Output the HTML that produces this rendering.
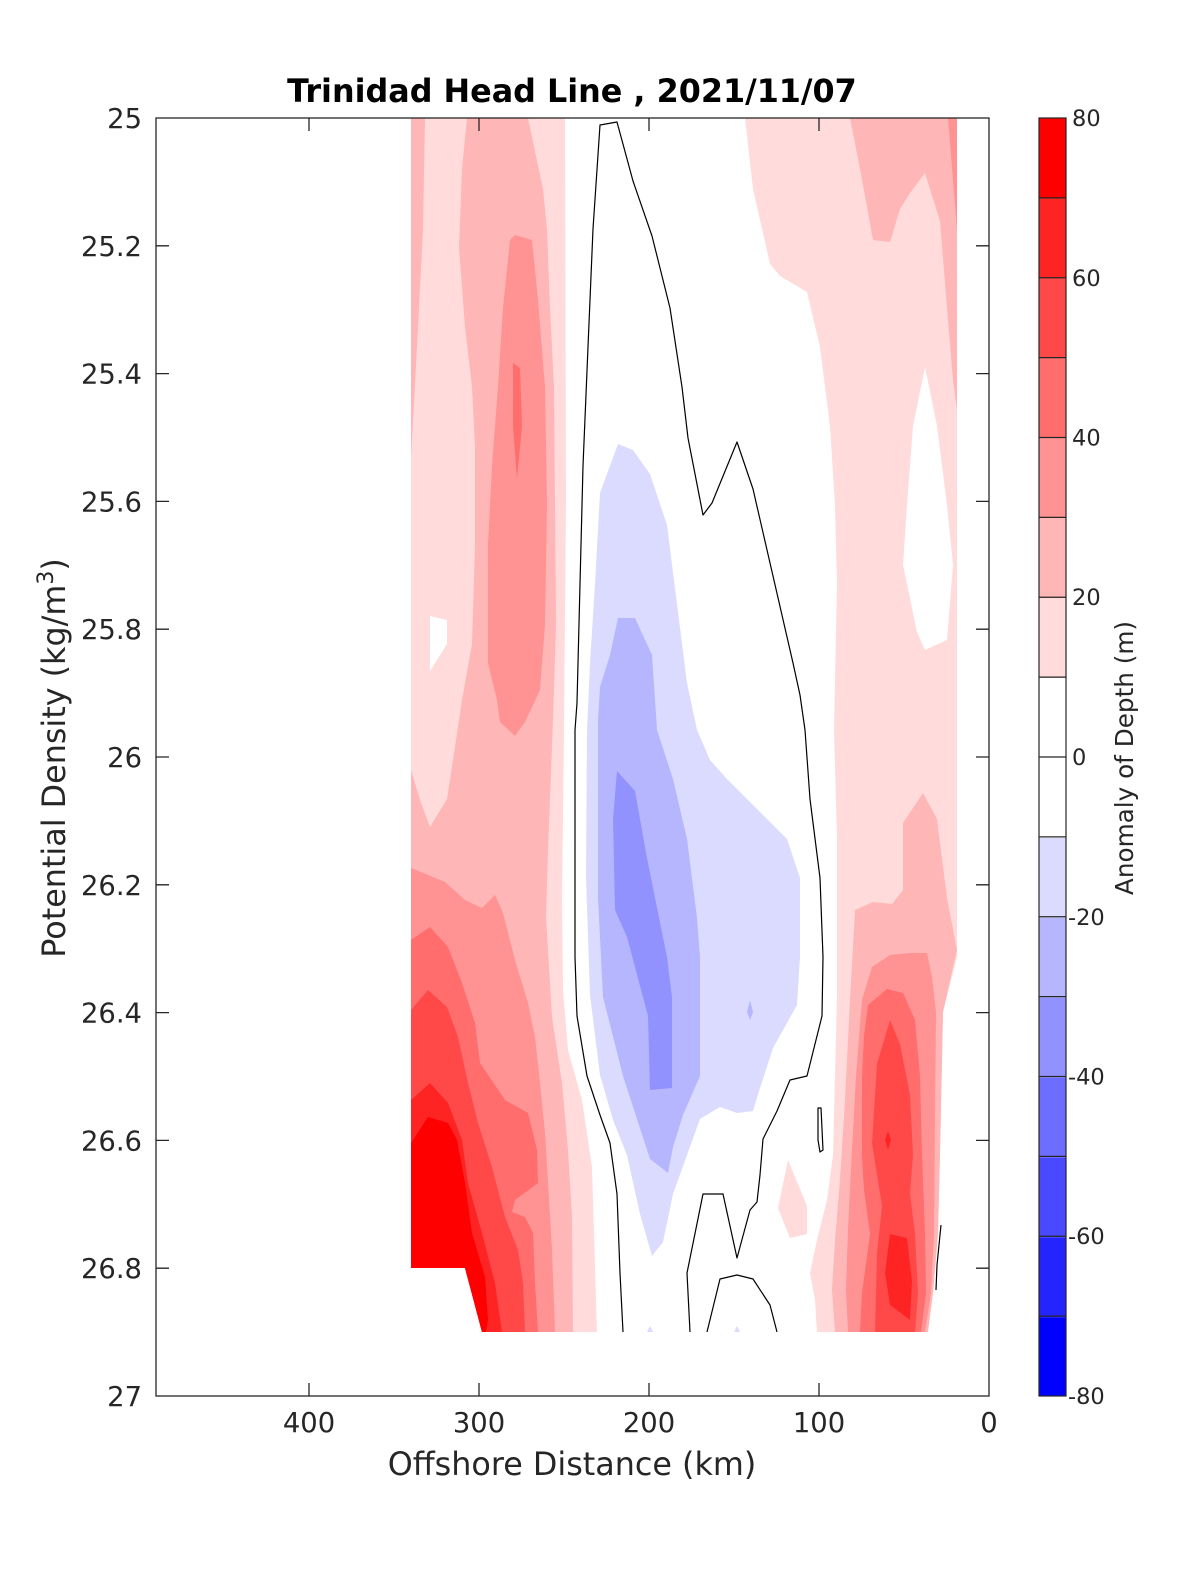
<!DOCTYPE html>
<html><head><meta charset="utf-8"><style>html,body{margin:0;padding:0;background:#fff;}svg{display:block;}</style></head>
<body>
<svg width="1200" height="1575" viewBox="0 0 1200 1575" xmlns="http://www.w3.org/2000/svg" font-family="'DejaVu Sans','Liberation Sans',sans-serif">
<rect x="0" y="0" width="1200" height="1575" fill="#fff"/>
<rect x="156" y="118" width="833" height="1278" fill="#fff"/>
<!-- Left block -->
<path fill="#FFDBDB" d="M411,118 L565,118 L566,500 L564,730 L562,900 L563,990 L568,1050 L582,1100 L592,1167 L597,1332 L482,1332 L465,1268 L411,1268 Z"/>
<path fill="#fff" d="M430,616 L447,620 L447,644 L430,671 Z"/>
<path fill="#FFB6B6" d="M411,118 L425,118 L423,229 L417,347 L411,458 Z"/>
<path fill="#FFB6B6" d="M467,118 L528,118 L543,189 L547,229 L550,308 L554,387 L555,505 L556,624 L553,720 L548,850 L546,917 L552,1017 L562,1083 L568,1150 L572,1217 L573,1332 L482,1332 L465,1268 L411,1268 L411,770 L420,800 L430,827 L447,799 L453,760 L462,700 L472,644 L475,545 L475,446 L472,387 L465,327 L459,248 L462,169 Z"/>
<path fill="#FF9292" d="M510,240 L515,235 L532,240 L538,300 L545,387 L547,505 L545,624 L540,690 L525,722 L515,736 L500,722 L497,700 L488,663 L488,545 L492,466 L498,387 L503,308 Z"/>
<path fill="#FF6D6D" d="M513,363 L520,368 L522,426 L517,478 L513,426 Z"/>
<path fill="#FF9292" d="M411,868 L445,882 L465,900 L482,908 L495,895 L503,913 L515,960 L528,1003 L535,1037 L540,1083 L545,1133 L548,1183 L552,1250 L555,1332 L482,1332 L465,1268 L411,1268 Z"/>
<path fill="#FF6D6D" d="M411,940 L430,927 L448,947 L462,983 L475,1023 L480,1063 L505,1100 L528,1113 L537,1150 L538,1183 L515,1200 L512,1212 L525,1217 L533,1233 L535,1283 L538,1332 L482,1332 L465,1268 L411,1268 Z"/>
<path fill="#FF4949" d="M411,1010 L428,990 L447,1007 L458,1037 L468,1083 L478,1123 L492,1167 L505,1217 L518,1250 L523,1283 L525,1332 L482,1332 L465,1268 L411,1268 Z"/>
<path fill="#FF2424" d="M411,1100 L430,1083 L448,1103 L462,1140 L468,1183 L482,1233 L495,1283 L502,1332 L482,1332 L465,1268 L411,1268 Z"/>
<path fill="#FF0000" d="M411,1143 L428,1117 L448,1123 L457,1140 L465,1183 L472,1233 L485,1277 L488,1320 L486,1332 L482,1332 L465,1268 L411,1268 Z"/>
<!-- Right block -->
<path fill="#FFDBDB" d="M745,118 L753,189 L770,264 L780,276 L807,292 L820,347 L830,426 L835,505 L837,584 L834,730 L837,839 L837,997 L835,1076 L833,1155 L827,1200 L817,1240 L810,1273 L815,1300 L817,1332 L927,1332 L933,1293 L938,1234 L940,1155 L943,1012 L957,957 L957,118 Z"/>
<path fill="#fff" d="M925,367 L937,426 L947,505 L953,565 L947,640 L925,650 L917,632 L903,565 L907,505 L913,426 Z"/>
<path fill="#FFB6B6" d="M850,118 L860,169 L873,240 L890,242 L900,209 L910,193 L925,173 L940,221 L947,308 L953,380 L957,410 L957,118 Z"/>
<path fill="#FF9292" d="M948,118 L957,118 L957,230 L953,180 Z"/>
<path fill="#FFB6B6" d="M855,910 L873,902 L892,904 L903,890 L903,823 L923,793 L937,819 L947,898 L957,950 L943,1012 L940,1155 L938,1234 L933,1293 L928,1332 L835,1332 L832,1290 L835,1240 L840,1180 L845,1100 L850,1000 Z"/>
<path fill="#FF9292" d="M872,967 L890,955 L910,953 L927,953 L932,977 L936,1012 L935,1115 L934,1234 L931,1293 L925,1332 L848,1332 L846,1290 L848,1230 L852,1150 L856,1076 L862,1000 Z"/>
<path fill="#FF6D6D" d="M868,1005 L887,989 L903,993 L915,1020 L920,1076 L922,1155 L925,1234 L926,1293 L921,1332 L860,1332 L862,1293 L870,1234 L864,1190 L862,1155 L862,1076 L864,1036 Z"/>
<path fill="#FF4949" d="M890,1020 L900,1044 L910,1095 L913,1155 L910,1194 L915,1234 L918,1293 L915,1332 L875,1332 L877,1254 L882,1206 L872,1143 L877,1064 Z"/>
<path fill="#FF2424" d="M890,1234 L907,1238 L912,1281 L910,1320 L890,1305 L885,1273 Z"/>
<path fill="#FF2424" d="M888,1131 L891,1140 L888,1150 L885,1140 Z"/>
<path fill="#FFDBDB" d="M788,1160 L807,1206 L807,1234 L790,1238 L778,1208 Z"/>
<!-- Blue -->
<path fill="#DBDBFF" d="M618,444 L633,450 L650,474 L667,525 L677,604 L687,683 L697,730 L710,760 L727,779 L747,799 L767,819 L787,839 L800,878 L800,957 L797,1005 L773,1048 L760,1088 L753,1111 L737,1113 L720,1107 L700,1119 L687,1155 L673,1194 L663,1242 L652,1256 L640,1214 L627,1155 L613,1120 L600,1075 L590,995 L586,878 L587,730 L590,663 L595,584 L600,493 Z"/>
<path fill="#B6B6FF" d="M618,618 L635,618 L652,655 L657,730 L673,779 L687,839 L697,918 L700,957 L700,1076 L683,1115 L673,1147 L668,1173 L650,1159 L623,1076 L603,997 L598,898 L598,720 L600,687 L610,655 Z"/>
<path fill="#B6B6FF" d="M750,1000 L753,1012 L750,1020 L747,1012 Z"/>
<path fill="#9292FF" d="M617,771 L635,791 L647,858 L667,957 L672,997 L672,1088 L650,1090 L648,1016 L627,937 L615,910 L613,819 Z"/>
<path fill="#DBDBFF" d="M647,1332 L650,1326 L653,1332 Z"/>
<path fill="#DBDBFF" d="M734,1332 L737,1326 L740,1332 Z"/>
<!-- zero contours -->
<g fill="none" stroke="#000" stroke-width="1.2" stroke-linejoin="round">
<path d="M623,1332 L620,1273 L617,1194 L610,1143 L600,1115 L587,1076 L577,1016 L575,957 L575,730 L577,703 L580,584 L583,466 L588,347 L593,229 L600,125 L617,122 L633,181 L652,236 L670,308 L682,387 L688,438 L703,515 L712,503 L737,442 L753,489 L773,576 L793,663 L800,695 L805,730 L810,799 L820,878 L823,957 L822,1016 L807,1076 L790,1080 L777,1111 L763,1139 L760,1175 L757,1202 L750,1210 L737,1258 L723,1194 L703,1194 L687,1273 L690,1332"/>
<path d="M707,1332 L720,1279 L737,1275 L753,1279 L770,1305 L777,1332"/>
<path d="M818,1108 L821,1108 L823,1150 L820,1152 L818,1140 Z"/>
<path d="M941,1225 L937,1265 L936,1290"/>
</g>
<!-- axes box and ticks -->
<g stroke="#262626" stroke-width="1.3" fill="none">
<rect x="156" y="118" width="833" height="1278"/>
<path d="M309,1396 V1383 M479,1396 V1383 M649,1396 V1383 M819,1396 V1383 M309,118 V131 M479,118 V131 M649,118 V131 M819,118 V131"/>
<path d="M156,245.8 H169 M156,373.6 H169 M156,501.4 H169 M156,629.2 H169 M156,757 H169 M156,884.8 H169 M156,1012.6 H169 M156,1140.4 H169 M156,1268.2 H169
M989,245.8 H976 M989,373.6 H976 M989,501.4 H976 M989,629.2 H976 M989,757 H976 M989,884.8 H976 M989,1012.6 H976 M989,1140.4 H976 M989,1268.2 H976"/>
</g>
<!-- y tick labels -->
<g fill="#262626" font-size="27.4" text-anchor="end">
<text x="142" y="128">25</text>
<text x="142" y="255.8">25.2</text>
<text x="142" y="383.6">25.4</text>
<text x="142" y="511.4">25.6</text>
<text x="142" y="639.2">25.8</text>
<text x="142" y="767">26</text>
<text x="142" y="894.8">26.2</text>
<text x="142" y="1022.6">26.4</text>
<text x="142" y="1150.4">26.6</text>
<text x="142" y="1278.2">26.8</text>
<text x="142" y="1406">27</text>
</g>
<!-- x tick labels -->
<g fill="#262626" font-size="27.4" text-anchor="middle">
<text x="309" y="1432">400</text>
<text x="479" y="1432">300</text>
<text x="649" y="1432">200</text>
<text x="819" y="1432">100</text>
<text x="989" y="1432">0</text>
</g>
<text x="572" y="1475" fill="#262626" font-size="31.8" text-anchor="middle">Offshore Distance (km)</text>
<text transform="translate(65,758) rotate(-90)" fill="#262626" font-size="31.8" text-anchor="middle">Potential Density (kg/m<tspan dy="-12" font-size="22">3</tspan><tspan dy="12">)</tspan></text>
<text x="572" y="102" fill="#000" font-size="31.8" font-weight="bold" text-anchor="middle">Trinidad Head Line , 2021/11/07</text>
<!-- colorbar -->
<g>
<rect x="1039" y="118" width="27" height="80" fill="#FF0000"/>
<rect x="1039" y="198" width="27" height="80" fill="#FF2424"/>
<rect x="1039" y="278" width="27" height="80" fill="#FF4949"/>
<rect x="1039" y="358" width="27" height="80" fill="#FF6D6D"/>
<rect x="1039" y="438" width="27" height="80" fill="#FF9292"/>
<rect x="1039" y="518" width="27" height="80" fill="#FFB6B6"/>
<rect x="1039" y="598" width="27" height="80" fill="#FFDBDB"/>
<rect x="1039" y="678" width="27" height="160" fill="#FFFFFF"/>
<rect x="1039" y="838" width="27" height="80" fill="#DBDBFF"/>
<rect x="1039" y="918" width="27" height="80" fill="#B6B6FF"/>
<rect x="1039" y="998" width="27" height="80" fill="#9292FF"/>
<rect x="1039" y="1078" width="27" height="80" fill="#6D6DFF"/>
<rect x="1039" y="1158" width="27" height="80" fill="#4949FF"/>
<rect x="1039" y="1238" width="27" height="80" fill="#2424FF"/>
<rect x="1039" y="1318" width="27" height="78" fill="#0000FF"/>
</g>
<g stroke="#262626" stroke-width="1.2" fill="none">
<path d="M1039,197.9 H1066 M1039,277.75 H1066 M1039,357.6 H1066 M1039,437.5 H1066 M1039,517.4 H1066 M1039,597.25 H1066 M1039,677.1 H1066 M1039,757 H1066 M1039,836.9 H1066 M1039,916.75 H1066 M1039,996.6 H1066 M1039,1076.5 H1066 M1039,1156.4 H1066 M1039,1236.25 H1066 M1039,1316.1 H1066"/>
<rect x="1039" y="118" width="27" height="1278"/>
</g>
<g fill="#262626" font-size="22.5">
<text x="1072" y="126">80</text>
<text x="1072" y="286">60</text>
<text x="1072" y="445.5">40</text>
<text x="1072" y="605">20</text>
<text x="1072" y="765">0</text>
<text x="1068" y="925">-20</text>
<text x="1068" y="1084.5">-40</text>
<text x="1068" y="1244">-60</text>
<text x="1068" y="1404">-80</text>
</g>
<text transform="translate(1133,758) rotate(-90)" fill="#262626" font-size="24.7" text-anchor="middle">Anomaly of Depth (m)</text>
</svg>
</body></html>
